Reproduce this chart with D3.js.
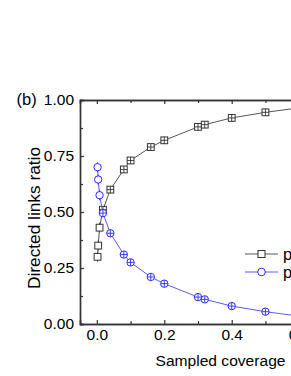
<!DOCTYPE html>
<html>
<head>
<meta charset="utf-8">
<script src="https://cdn.jsdelivr.net/npm/d3@7"></script>
<style>
  body { margin: 0; background: #fff; overflow: hidden; }
  text { font-family: "Liberation Sans", Arial, sans-serif; }
</style>
</head>
<body>
<div id="chart"></div>
<script>
var width = 291
var height = 376

// sampled coverage
var coverage = [0.002, 0.004, 0.008, 0.018, 0.04, 0.08, 0.1, 0.16, 0.2, 0.3, 0.32, 0.4, 0.5, 0.6]
// directed links ratio, square series
var ratioA = [0.30, 0.35, 0.43, 0.51, 0.60, 0.69, 0.73, 0.79, 0.82, 0.88, 0.89, 0.92, 0.945, 0.965]
// directed links ratio, circle series
var ratioB = [0.70, 0.645, 0.575, 0.495, 0.405, 0.31, 0.275, 0.21, 0.18, 0.12, 0.11, 0.08, 0.055, 0.035]

var xTicks = [0, 0.2, 0.4, 0.6]
var xMinor = [0.1, 0.3, 0.5]
var yTicks = [0, 0.25, 0.5, 0.75, 1]
var yMinor = [0.125, 0.375, 0.625, 0.875]
var legendNames = ["p", "p"]

var x = d3.scaleLinear().domain([-0.05, 0.65]).range([80, 316])
var y = d3.scaleLinear().domain([0, 1]).range([324, 100])

var svg = d3.select("#chart").append("svg")
  .attr("width", width)
  .attr("height", height)

var axisColor = "#333"

// minor ticks first
svg.append("g")
  .attr("transform", "translate(0,324)")
  .call(d3.axisBottom(x).tickValues(xMinor).tickSize(-3).tickFormat(""))
svg.append("g")
  .attr("transform", "translate(0,100)")
  .call(d3.axisTop(x).tickValues(xMinor).tickSize(-3).tickFormat(""))
svg.append("g")
  .attr("transform", "translate(80,0)")
  .call(d3.axisLeft(y).tickValues(yMinor).tickSize(-3).tickFormat(""))

svg.append("g")
  .attr("transform", "translate(0,324)")
  .call(d3.axisBottom(x).tickValues(xTicks).tickSize(-4).tickPadding(5).tickFormat(d3.format(".1f")))
svg.append("g")
  .attr("transform", "translate(0,100)")
  .call(d3.axisTop(x).tickValues(xTicks).tickSize(-4).tickFormat(""))
svg.append("g")
  .attr("transform", "translate(80,0)")
  .call(d3.axisLeft(y).tickValues(yTicks).tickSize(-4).tickPadding(6).tickFormat(d3.format(".2f")))

svg.selectAll(".domain").attr("stroke", axisColor).attr("stroke-width", 1.4)
svg.selectAll(".tick line").attr("stroke", axisColor).attr("stroke-width", 1.2)
svg.selectAll(".tick text")
  .attr("fill", "#000")
  .attr("font-family", "'Liberation Sans', Arial, sans-serif")
  .attr("font-size", "15.5px")

// axis titles
svg.append("text")
  .attr("x", 155.5)
  .attr("y", 365.5)
  .attr("font-size", "15.5px")
  .attr("textLength", 130)
  .attr("lengthAdjust", "spacingAndGlyphs")
  .attr("fill", "#000")
  .text("Sampled coverage")

svg.append("text")
  .attr("transform", "translate(40,218) rotate(-90)")
  .attr("text-anchor", "middle")
  .attr("font-size", "16.5px")
  .attr("textLength", 142)
  .attr("lengthAdjust", "spacingAndGlyphs")
  .attr("fill", "#000")
  .text("Directed links ratio")

svg.append("text")
  .attr("x", 16.5)
  .attr("y", 105)
  .attr("font-size", "16.5px")
  .attr("fill", "#000")
  .text("(b)")

var series = [
  { name: legendNames[0], values: ratioA, line: "#555", mark: "#333", shape: "square" },
  { name: legendNames[1], values: ratioB, line: "#5a5aff", mark: "#2a2aff", shape: "circle" }
]

var line = d3.line()
  .x(function (d) { return x(d[0]) })
  .y(function (d) { return y(d[1]) })

var plot = svg.append("g")

series.forEach(function (s) {
  var pts = coverage.map(function (c, i) { return [c, s.values[i]] })

  plot.append("path")
    .datum(pts)
    .attr("fill", "none")
    .attr("stroke", s.line)
    .attr("stroke-width", 1)
    .attr("d", line)

  var marks = plot.append("g").selectAll("g")
    .data(pts)
    .enter()
    .append("g")
    .attr("transform", function (d) { return "translate(" + x(d[0]) + "," + y(d[1]) + ")" })

  if (s.shape === "square") {
    marks.append("rect")
      .attr("x", -3.4).attr("y", -3.4)
      .attr("width", 6.8).attr("height", 6.8)
      .attr("fill", "#fff")
      .attr("stroke", s.mark)
      .attr("stroke-width", 1)
  } else {
    marks.append("circle")
      .attr("r", 3.7)
      .attr("fill", "#fff")
      .attr("stroke", s.mark)
      .attr("stroke-width", 1)
  }

  // error bars: a small cross inside the marker, or stubs outside it
  marks.filter(function (d, i) { return i >= 3 })
    .append("path")
    .attr("d", "M-3.4,0H3.4M0,-3.4V3.4")
    .attr("stroke", s.mark)
    .attr("stroke-width", 0.9)
  marks.filter(function (d, i) { return i < 3 })
    .append("path")
    .attr("d", "M0,-5V-3.4M0,3.4V5")
    .attr("stroke", s.mark)
    .attr("stroke-width", 0.9)
})

// legend
var legend = svg.append("g")
series.forEach(function (s, i) {
  var ly = 254 + i * 18
  legend.append("line")
    .attr("x1", 245).attr("x2", 278)
    .attr("y1", ly).attr("y2", ly)
    .attr("stroke", s.line)
    .attr("stroke-width", 1)
  if (s.shape === "square") {
    legend.append("rect")
      .attr("x", 258).attr("y", ly - 3.5)
      .attr("width", 7).attr("height", 7)
      .attr("fill", "#fff").attr("stroke", s.mark)
  } else {
    legend.append("circle")
      .attr("cx", 261.5).attr("cy", ly)
      .attr("r", 3.8)
      .attr("fill", "#fff").attr("stroke", s.mark)
  }
  legend.append("text")
    .attr("x", 283)
    .attr("y", ly + 5.5)
    .attr("font-size", "16.5px")
    .attr("fill", "#000")
    .text(s.name)
})
</script>
</body>
</html>
